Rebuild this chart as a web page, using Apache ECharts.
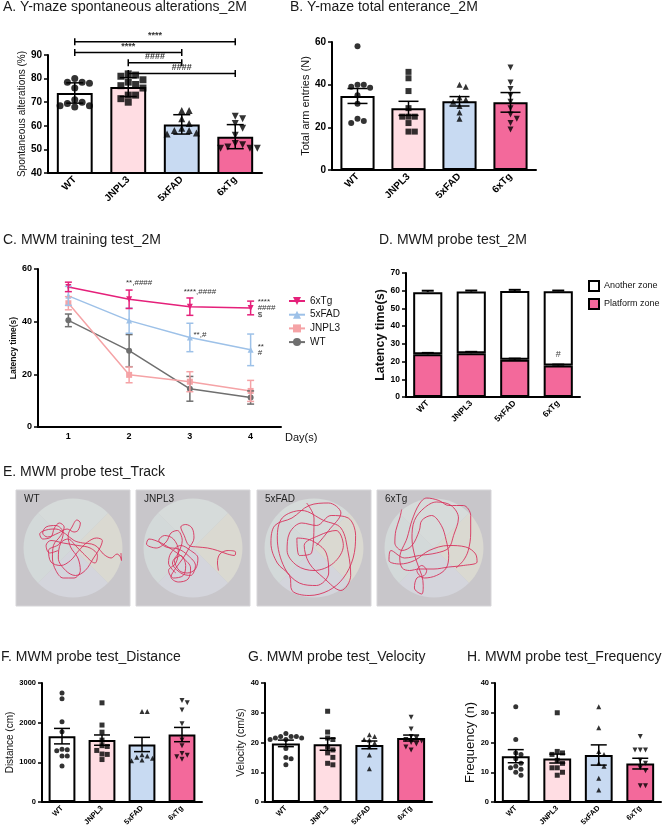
<!DOCTYPE html>
<html><head><meta charset="utf-8">
<script src="https://cdn.jsdelivr.net/npm/echarts@6/dist/echarts.min.js"></script>
<style>html,body{margin:0;padding:0;background:#fff}#c{width:670px;height:831px}</style>
</head><body><div id="c"></div>
<script>
const FONT = '"Liberation Sans", Arial, sans-serif';
const groups = ['WT', 'JNPL3', '5xFAD', '6xTg'];
const barColors = ['#FFFFFF', '#FFDDE3', '#C8DAF2', '#F3699B'];
const symbols = ['circle', 'rect', 'triangle', 'triangle'];
const symbolRot = [0, 0, 0, 180];

// A. Y-maze spontaneous alterations (mean ± SD)
const aMean = [73.9, 76.4, 60.6, 55.4];
const aSD = [4.3, 4.0, 4.1, 5.1];
const aWT = [80, 78.5, 78.5, 78, 76, 71, 70, 69.5, 68.5, 68, 68.5];
const aJNPL3 = [82, 81.5, 81, 79.5, 78.5, 77.5, 77, 76, 73, 73, 71.5, 70];
const aFAD = [66.5, 66.5, 63, 61, 59, 58, 58, 57, 56.5];
const a6xTg = [64, 63, 61, 59, 56, 52.5, 52, 51, 50.5, 50.5, 50.5];
const aSigFrom = [0, 0, 1, 1];
const aSigTo = [3, 2, 2, 3];
const aSigY = [95.6, 91.1, 86.7, 82.2];
const aSigText = ['****', '****', '####', '####'];

// B. Y-maze total entrance (mean ± SEM)
const bMean = [34.7, 28.9, 32.2, 31.7];
const bSEM = [3.5, 3.3, 2.2, 4.6];
const bWT = [58, 40, 40, 39, 38.5, 35, 31, 24, 23, 22];
const bJNPL3 = [46, 43, 37, 29, 25, 25, 25, 22, 18, 18];
const bFAD = [40, 39, 34, 33, 32, 30, 27, 24];
const b6xTg = [48, 41, 38, 35, 32, 29, 26, 24, 22, 19];

// C. MWM training
const days = ['1', '2', '3', '4'];
const cNames = ['6xTg', '5xFAD', 'JNPL3', 'WT'];
const cColors = ['#E5207A', '#9DC1E8', '#F5A3A6', '#6F6F6F'];
const cSymbols = ['triangle', 'triangle', 'rect', 'circle'];
const cRot = [180, 0, 0, 0];
const c6xTg = [53.2, 48.5, 45.7, 45.2];
const c6xTgErr = [1.8, 3.5, 3.3, 2.6];
const cFAD = [49.8, 40.4, 34.0, 29.3];
const cFADErr = [3.6, 4.8, 5.4, 6.0];
const cJNPL3 = [47.0, 19.8, 17.2, 13.7];
const cJNPL3Err = [2.5, 3.0, 3.8, 4.0];
const cWT = [40.5, 29.0, 14.5, 11.2];
const cWTErr = [2.4, 6.1, 4.7, 2.5];
const cNoteDay = [1, 2, 2, 3, 3, 3, 3, 3];
const cNoteY = [54.8, 51.5, 35.0, 47.7, 45.2, 42.6, 30.5, 28.2];
const cNoteText = ['**,####', '****,####', '**,#', '****', '####', '$', '**', '#'];

// D. MWM probe test
const dPlatform = [24.1, 24.7, 21.0, 17.8];
const dAnother = [35.1, 34.8, 38.8, 41.9];
const dErrP = [0.8, 0.8, 0.7, 0.5];
const dErrA = [0.8, 0.6, 0.7, 0.4];
const dNoteX = [3];
const dNoteY = [21.6];
const dNoteText = ['#'];

// E. Tracks (normalized arena coordinates, radius 1)
const trackWT = [[0.98,-0.1],[0.99,-0.25],[0.97,-0.18],[0.9,-0.12],[0.78,-0.2],[0.62,-0.12],[0.5,0.02],[0.38,0.08],[0.2,0.1],[0.02,0.15],[-0.15,0.28],[-0.35,0.38],[-0.55,0.36],[-0.68,0.28],[-0.62,0.18],[-0.45,0.22],[-0.38,0.4],[-0.28,0.5],[-0.18,0.42],[-0.25,0.25],[-0.4,0.05],[-0.42,-0.2],[-0.35,-0.45],[-0.2,-0.6],[0.02,-0.6],[0.15,-0.45],[0.1,-0.2],[-0.05,0.02],[-0.1,0.25],[-0.02,0.42],[0.08,0.56],[0.15,0.5],[0.1,0.35],[0.02,0.32],[-0.12,0.38],[-0.3,0.3],[-0.52,0.22],[-0.62,0.3],[-0.55,0.42],[-0.35,0.45],[-0.2,0.3],[-0.28,0.08],[-0.5,-0.05],[-0.45,-0.28],[-0.25,-0.35],[-0.05,-0.25],[0.12,-0.05],[0.3,0.12],[0.48,0.2],[0.6,0.15],[0.55,0.0],[0.42,-0.2],[0.25,-0.45],[0.05,-0.55],[-0.15,-0.45],[-0.3,-0.2],[-0.25,0.1],[-0.1,0.18],[0.05,0.05],[0.2,-0.1],[0.45,-0.3],[0.5,-0.15],[0.35,0.0],[0.1,0.05],[-0.2,0.1],[-0.45,0.15],[-0.55,0.05],[-0.48,-0.1],[-0.3,-0.05]];
const trackJNPL3 = [[0.52,-0.45],[0.5,-0.3],[0.55,-0.12],[0.72,-0.05],[0.87,-0.08],[0.85,-0.15],[0.7,-0.12],[0.5,-0.05],[0.3,0.0],[0.1,0.02],[-0.08,0.05],[-0.18,0.25],[-0.25,0.42],[-0.15,0.47],[-0.02,0.4],[0.02,0.2],[-0.08,0.0],[-0.2,-0.2],[-0.35,-0.4],[-0.45,-0.58],[-0.3,-0.68],[-0.1,-0.62],[-0.05,-0.4],[-0.2,-0.2],[-0.4,-0.05],[-0.65,0.1],[-0.9,0.18],[-0.95,0.08],[-0.75,0.0],[-0.55,0.12],[-0.45,0.3],[-0.32,0.35],[-0.22,0.15],[-0.3,-0.1],[-0.42,-0.3],[-0.25,-0.5],[-0.05,-0.55],[0.05,-0.35],[-0.1,-0.15],[-0.3,-0.02],[-0.55,0.02],[-0.7,0.15],[-0.58,0.25],[-0.4,0.18],[-0.3,-0.05],[-0.35,-0.3],[-0.5,-0.45],[-0.4,-0.6],[-0.2,-0.55],[-0.15,-0.35],[-0.25,-0.15],[-0.38,-0.25],[-0.28,-0.45],[-0.12,-0.5],[0.05,-0.42],[0.1,-0.2],[-0.05,-0.05],[-0.25,0.05],[-0.45,-0.1],[-0.5,-0.3],[-0.35,-0.5]];
const trackFAD = [[0.05,0.05],[0.3,0.35],[0.55,0.7],[0.3,0.9],[-0.1,0.85],[-0.45,0.6],[-0.8,0.45],[-0.88,0.1],[-0.75,-0.3],[-0.5,-0.55],[-0.45,-0.85],[-0.1,-0.95],[0.3,-0.85],[0.6,-0.6],[0.8,-0.2],[0.85,0.25],[0.7,0.6],[0.35,0.65],[0.05,0.45],[-0.25,0.5],[-0.5,0.3],[-0.55,-0.05],[-0.35,-0.35],[0.0,-0.45],[0.4,-0.3],[0.6,0.05],[0.45,0.35],[0.1,0.25],[-0.2,0.05],[-0.1,-0.3],[0.2,-0.6],[0.55,-0.85],[0.75,-0.55],[0.7,-0.1],[0.55,0.4],[0.2,0.55],[-0.25,0.75],[-0.65,0.6],[-0.75,0.2],[-0.6,-0.4],[-0.3,-0.7],[0.05,-0.75],[0.3,-0.5],[0.25,-0.1],[-0.05,0.15],[-0.35,0.2],[-0.3,-0.15],[-0.05,-0.1],[0.0,0.6],[-0.15,0.9]];
const track6xTg = [[-0.66,0.77],[-0.7,0.6],[-0.78,0.35],[-0.8,0.1],[-0.65,-0.05],[-0.45,0.05],[-0.3,0.35],[-0.25,0.55],[-0.05,0.65],[0.15,0.45],[0.25,0.15],[0.3,-0.15],[0.25,-0.4],[0.05,-0.55],[-0.2,-0.6],[-0.35,-0.45],[-0.25,-0.35],[-0.15,-0.45],[-0.2,-0.55],[-0.35,-0.6],[-0.4,-0.8],[-0.25,-0.92],[-0.22,-0.75],[-0.25,-0.55],[-0.38,-0.2],[-0.45,0.2],[-0.4,0.55],[-0.2,0.8],[0.05,0.92],[0.35,0.85],[0.5,0.6],[0.4,0.25],[0.3,0.0],[0.05,-0.1],[-0.3,-0.15],[-0.6,-0.2],[-0.88,-0.05],[-0.92,-0.25],[-0.7,-0.32],[-0.4,-0.25],[-0.1,-0.05],[0.3,0.05],[0.65,0.02],[0.85,-0.12],[0.88,-0.28],[0.6,-0.35],[0.3,-0.38],[0.0,-0.42],[-0.3,-0.42],[-0.5,-0.45],[-0.65,-0.4],[-0.7,-0.2],[-0.55,0.2],[-0.45,0.55],[-0.3,0.88],[-0.15,1.0],[0.1,0.95],[0.3,0.85],[0.6,0.85],[0.75,0.65],[0.75,0.3],[0.7,-0.05],[0.6,-0.25],[0.45,-0.4]];

// F, G, H (mean ± SEM)
const fMean = [1660, 1560, 1450, 1700];
const fSEM = [195, 130, 180, 180];
const fWT = [2750, 2600, 2020, 1770, 1330, 1320, 1290, 1160, 1160, 910];
const fJNPL3 = [2500, 1940, 1760, 1560, 1420, 1400, 1300, 1210, 1200, 1070];
const fFAD = [2280, 2280, 1190, 1160, 1130, 1100, 1060, 1040];
const f6xTg = [2560, 2500, 2320, 1970, 1560, 1420, 1220, 1180, 1140, 1080];

const gMean = [19.7, 19.4, 19.2, 21.5];
const gSEM = [1.1, 2.0, 1.3, 1.0];
const gWT = [23, 22, 22, 22, 21.5, 21.5, 21, 21, 18, 15, 14.5, 12.5];
const gJNPL3 = [30.5, 23.5, 21.5, 21, 18.5, 17.5, 16.5, 15, 13, 12.5];
const gFAD = [22.6, 22, 21, 20.8, 19.8, 18.6, 15.8, 11.2];
const g6xTg = [28.5, 24.5, 22, 21.5, 21, 20.5, 20, 19.5, 18.5, 17.5];

const hMean = [15.4, 14.6, 15.8, 12.9];
const hSEM = [2.2, 1.5, 3.4, 1.8];
const hWT = [32, 21, 16.5, 16, 14.5, 13, 12, 11.5, 11, 10, 9];
const hJNPL3 = [30, 17, 16.5, 16, 14, 13, 11.5, 11.5, 10, 9];
const hFAD = [32, 25, 17, 16, 13, 12, 8, 4];
const h6xTg = [22, 17.5, 17.5, 17.5, 14, 13, 11.5, 10.5, 5.5, 5.5];

// ---------------------------------------------------------------
const option = { animation: false, textStyle: { fontFamily: FONT }, title: [], grid: [], xAxis: [], yAxis: [], series: [], legend: [] };

function addTitle(text, left, top, size, color) {
  option.title.push({ text, left, top, padding: 0, textStyle: { fontSize: size || 14, fontWeight: 'normal', color: color || '#1a1a1a', fontFamily: FONT } });
}
function yDef(gi, min, max, interval, name, nameGap, nameSize, nameBold, tickSize) {
  return { gridIndex: gi, type: 'value', min, max, interval, name, nameLocation: 'middle', nameGap, nameRotate: 90,
    nameTextStyle: { fontSize: nameSize, fontWeight: nameBold ? 'bold' : 'normal', color: '#111', fontFamily: FONT },
    axisLine: { show: true, onZero: false, lineStyle: { color: '#000', width: 2 } },
    axisTick: { show: true, length: 4, lineStyle: { color: '#000', width: 1.5 } },
    axisLabel: { fontSize: tickSize, fontWeight: 'bold', color: '#000', margin: 6, fontFamily: FONT, formatter: v => String(v) },
    splitLine: { show: false } };
}
function xCat(gi, data, labSize, rotate) {
  return { gridIndex: gi, type: 'category', data,
    axisLine: { onZero: false, lineStyle: { color: '#000', width: 2 } },
    axisTick: { alignWithLabel: true, length: 4, lineStyle: { color: '#000', width: 1.5 } },
    axisLabel: { rotate, fontSize: labSize, fontWeight: 'bold', color: '#000', margin: 5, interval: 0, fontFamily: FONT } };
}
function errSeries(xi, yi, mean, err, cap, color, lw, both, z) {
  return { type: 'custom', xAxisIndex: xi, yAxisIndex: yi, z: z || 5, clip: false, silent: true,
    data: mean.map((m, i) => [i, m, err[i]]),
    renderItem: (params, api) => {
      const i = api.value(0), m = api.value(1), e = api.value(2);
      const hi = api.coord([i, m + e]), lo = api.coord([i, both ? m - e : m]);
      const x = hi[0]; const st = { stroke: color, lineWidth: lw };
      const ch = [{ type: 'line', shape: { x1: x, y1: hi[1], x2: x, y2: lo[1] }, style: st },
                  { type: 'line', shape: { x1: x - cap, y1: hi[1], x2: x + cap, y2: hi[1] }, style: st }];
      if (both) ch.push({ type: 'line', shape: { x1: x - cap, y1: lo[1], x2: x + cap, y2: lo[1] }, style: st });
      return { type: 'group', children: ch };
    } };
}
function swarm(vals, idx, pxCat, pxVal, dot) {
  const placed = []; const out = new Array(vals.length);
  const order = vals.map((v, k) => k).sort((a, b) => vals[b] - vals[a]);
  order.forEach(k => {
    const v = vals[k]; let off = 0;
    for (let s = 0; s < 30; s++) {
      const cand = s === 0 ? 0 : (s % 2 ? 1 : -1) * Math.ceil(s / 2) * dot * 1.05;
      if (placed.every(p => Math.hypot(p.x - cand, (p.v - v) * pxVal) >= dot)) { off = cand; break; }
    }
    placed.push({ x: off, v });
    out[k] = [idx + off / pxCat, v];
  });
  return out;
}
function barPanel(p) {
  const gi = option.grid.length;
  option.grid.push({ left: p.left, top: p.top, width: p.width, height: p.height });
  const xi = option.xAxis.length;
  option.xAxis.push(xCat(gi, groups, p.xlab, 45));
  option.xAxis.push({ gridIndex: gi, type: 'value', min: -0.5, max: 3.5, show: false, axisLine: { onZero: false } });
  const yi = option.yAxis.length;
  option.yAxis.push(yDef(gi, p.min, p.max, p.interval, p.name, p.nameGap, p.nameSize, false, p.tick));
  option.series.push({ type: 'bar', xAxisIndex: xi, yAxisIndex: yi, barWidth: '67%', z: 2,
    itemStyle: { borderColor: '#000', borderWidth: 2 },
    data: p.mean.map((m, i) => ({ value: m, itemStyle: { color: barColors[i], borderColor: '#000', borderWidth: 2 } })) });
  const pxCat = p.width / 4, pxVal = p.height / (p.max - p.min);
  const pts = [];
  p.points.forEach((vals, i) => swarm(vals, i, pxCat, pxVal, p.dot).forEach(pt =>
    pts.push({ value: pt, symbol: symbols[i], symbolRotate: symbolRot[i] })));
  option.series.push({ type: 'scatter', xAxisIndex: xi + 1, yAxisIndex: yi, symbolSize: p.dot, z: 3, silent: true,
    itemStyle: { color: '#000' }, data: pts });
  option.series.push(errSeries(xi, yi, p.mean, p.err, p.cap, '#000', 1.5, true, 4));
  return { xi, yi };
}

// Titles
addTitle('A. Y-maze spontaneous alterations_2M', 3, 0);
addTitle('B. Y-maze total enterance_2M', 290, 0);
addTitle('C. MWM training test_2M', 3, 233);
addTitle('D. MWM probe test_2M', 379, 233);
addTitle('E. MWM probe test_Track', 3, 465);
addTitle('F. MWM probe test_Distance', 1, 650);
addTitle('G. MWM probe test_Velocity', 248, 650);
addTitle('H. MWM probe test_Frequency', 467, 650);

// A
const A = barPanel({ left: 48, top: 55, width: 214, height: 118, min: 40, max: 90, interval: 10,
  mean: aMean, err: aSD, points: [aWT, aJNPL3, aFAD, a6xTg], name: 'Spontaneous alterations (%)',
  nameGap: 21, nameSize: 10, tick: 10, xlab: 10, dot: 7, cap: 8.5 });
option.series.push({ type: 'custom', xAxisIndex: A.xi, yAxisIndex: A.yi, clip: false, silent: true, z: 6,
  data: aSigFrom.map((f, k) => [f, aSigTo[k], aSigY[k]]),
  renderItem: (params, api) => {
    const y = api.value(2);
    const a = api.coord([api.value(0), y]), b = api.coord([api.value(1), y]);
    const st = { stroke: '#000', lineWidth: 1.5 }, t = 3.5;
    return { type: 'group', children: [
      { type: 'line', shape: { x1: a[0], y1: a[1], x2: b[0], y2: b[1] }, style: st },
      { type: 'line', shape: { x1: a[0], y1: a[1] - t, x2: a[0], y2: a[1] + t }, style: st },
      { type: 'line', shape: { x1: b[0], y1: b[1] - t, x2: b[0], y2: b[1] + t }, style: st },
      { type: 'text', style: { text: aSigText[params.dataIndex], x: (a[0] + b[0]) / 2, y: a[1] - 1.5, align: 'center', verticalAlign: 'bottom', fontSize: 9, fontWeight: 'bold', fontFamily: FONT, fill: '#333' } }
    ] };
  } });

// B
barPanel({ left: 332, top: 42, width: 204, height: 128, min: 0, max: 60, interval: 20,
  mean: bMean, err: bSEM, points: [bWT, bJNPL3, bFAD, b6xTg], name: 'Total arm entries (N)',
  nameGap: 20, nameSize: 11, tick: 10, xlab: 10, dot: 6, cap: 10 });

// C
(function () {
  const gi = option.grid.length;
  option.grid.push({ left: 38, top: 269, width: 243, height: 158 });
  const xi = option.xAxis.length;
  const xa = xCat(gi, days, 9, 0);
  xa.name = 'Day(s)'; xa.nameLocation = 'end'; xa.nameGap = 4;
  xa.nameTextStyle = { fontSize: 11, color: '#111', verticalAlign: 'top', padding: [5, 0, 0, 0], fontFamily: FONT };
  option.xAxis.push(xa);
  const yi = option.yAxis.length;
  option.yAxis.push(yDef(gi, 0, 60, 20, 'Latency time(s)', 19, 8.5, true, 9));
  const means = [c6xTg, cFAD, cJNPL3, cWT], errs = [c6xTgErr, cFADErr, cJNPL3Err, cWTErr];
  for (let k = 3; k >= 0; k--) {
    option.series.push({ type: 'line', name: cNames[k], xAxisIndex: xi, yAxisIndex: yi, data: means[k], z: 3,
      symbol: cSymbols[k], symbolSize: 6, symbolRotate: cRot[k], showAllSymbol: true,
      lineStyle: { color: cColors[k], width: 1.5 }, itemStyle: { color: cColors[k] } });
    option.series.push(errSeries(xi, yi, means[k], errs[k], 3.5, cColors[k], 1.5, true, 4));
  }
  option.series.push({ type: 'custom', xAxisIndex: xi, yAxisIndex: yi, clip: false, silent: true, z: 6,
    data: cNoteDay.map((d, k) => [d, cNoteY[k]]),
    renderItem: (params, api) => {
      const d = api.value(0); const p = api.coord([d, api.value(1)]); const last = d === 3;
      return { type: 'text', style: { text: cNoteText[params.dataIndex], x: p[0] + (last ? 7 : 10), y: p[1],
        align: last ? 'left' : 'center', verticalAlign: 'middle', fontSize: 8, fontFamily: FONT, fill: '#333' } };
    } });
  option.legend.push({ data: cNames, orient: 'vertical', left: 288, top: 296, itemWidth: 16, itemHeight: 10, itemGap: 3.7,
    selectedMode: false, padding: 0, textStyle: { fontSize: 10, color: '#111', fontFamily: FONT } });
})();

// D
(function () {
  const gi = option.grid.length;
  option.grid.push({ left: 406, top: 273, width: 174, height: 124 });
  const xi = option.xAxis.length;
  option.xAxis.push(xCat(gi, groups, 8.5, 45));
  const yi = option.yAxis.length;
  option.yAxis.push(yDef(gi, 0, 70, 10, 'Latency time(s)', 18, 12.5, true, 8.5));
  const bst = (c) => ({ color: c, borderColor: '#000', borderWidth: 2 });
  option.series.push({ type: 'bar', name: 'Platform zone', stack: 'd', xAxisIndex: xi, yAxisIndex: yi, barWidth: '67%', data: dPlatform, itemStyle: bst('#F3699B'), z: 2 });
  option.series.push({ type: 'bar', name: 'Another zone', stack: 'd', xAxisIndex: xi, yAxisIndex: yi, barWidth: '67%', data: dAnother, itemStyle: bst('#FFFFFF'), z: 2 });
  option.series.push(errSeries(xi, yi, dPlatform, dErrP, 6, '#000', 2, false, 4));
  option.series.push(errSeries(xi, yi, dPlatform.map((v, i) => v + dAnother[i]), dErrA, 6, '#000', 2, false, 4));
  option.series.push({ type: 'custom', xAxisIndex: xi, yAxisIndex: yi, clip: false, silent: true, z: 6,
    data: dNoteX.map((x, k) => [x, dNoteY[k]]),
    renderItem: (params, api) => {
      const p = api.coord([api.value(0), api.value(1)]);
      return { type: 'text', style: { text: dNoteText[params.dataIndex], x: p[0], y: p[1], align: 'center', verticalAlign: 'bottom', fontSize: 9, fontFamily: FONT, fill: '#444' } };
    } });
  option.legend.push({ data: ['Another zone', 'Platform zone'], orient: 'vertical', left: 588, top: 280, icon: 'rect',
    itemWidth: 10, itemHeight: 10, itemGap: 6, selectedMode: false, padding: 0,
    textStyle: { fontSize: 9, color: '#111', fontFamily: FONT } });
})();

// E tracks
(function () {
  const lefts = [16, 136, 257, 377];
  const tracks = [trackWT, trackJNPL3, trackFAD, track6xTg];
  tracks.forEach((tr, k) => {
    const gi = option.grid.length;
    option.grid.push({ left: lefts[k], top: 490, width: 114, height: 116, show: true, backgroundColor: '#C8C6CA', borderColor: '#D6D5D8', borderWidth: 1 });
    const xi = option.xAxis.length, yi = option.yAxis.length;
    option.xAxis.push({ gridIndex: gi, type: 'value', min: -1.165, max: 1.165, show: false });
    option.yAxis.push({ gridIndex: gi, type: 'value', min: -1.16, max: 1.16, show: false });
    option.series.push({ type: 'custom', xAxisIndex: xi, yAxisIndex: yi, silent: true, z: 1, data: [[0, 0]],
      renderItem: (params, api) => {
        const c = api.coord([0, 0]); const r = api.size([1, 1]);
        const R = (r[0] + r[1]) / 2; const P = Math.PI;
        const sec = (a0, a1, col) => ({ type: 'sector', shape: { cx: c[0], cy: c[1], r: R, r0: 0, startAngle: a0, endAngle: a1, clockwise: true }, style: { fill: col } });
        return { type: 'group', children: [
          sec(-P / 4, P / 4, '#DAD9D1'), sec(P / 4, 3 * P / 4, '#D4D5DC'),
          sec(3 * P / 4, 5 * P / 4, '#D3D9D9'), sec(5 * P / 4, 7 * P / 4, '#D6DBDA')
        ] };
      } });
    option.series.push({ type: 'line', xAxisIndex: xi, yAxisIndex: yi, data: tr, smooth: 0.35, symbol: 'none', silent: true, z: 2,
      lineStyle: { color: '#D8325C', width: 0.9 } });
    addTitle(groups[k], lefts[k] + 8, 494, 10, '#222');
  });
})();

// F, G, H
barPanel({ left: 42, top: 683, width: 160, height: 119, min: 0, max: 3000, interval: 1000,
  mean: fMean, err: fSEM, points: [fWT, fJNPL3, fFAD, f6xTg], name: 'Distance (cm)',
  nameGap: 24, nameSize: 10, tick: 7.5, xlab: 7.5, dot: 5, cap: 8 });
barPanel({ left: 265, top: 683, width: 167, height: 119, min: 0, max: 40, interval: 10,
  mean: gMean, err: gSEM, points: [gWT, gJNPL3, gFAD, g6xTg], name: 'Velocity (cm/s)',
  nameGap: 17, nameSize: 10.5, tick: 7.5, xlab: 7.5, dot: 5, cap: 8 });
barPanel({ left: 495, top: 683, width: 166, height: 119, min: 0, max: 40, interval: 10,
  mean: hMean, err: hSEM, points: [hWT, hJNPL3, hFAD, h6xTg], name: 'Frequency (n)',
  nameGap: 17, nameSize: 13, tick: 7.5, xlab: 7.5, dot: 5, cap: 8 });

const chart = echarts.init(document.getElementById('c'), null, { renderer: 'canvas' });
chart.setOption(option);
</script></body></html>
